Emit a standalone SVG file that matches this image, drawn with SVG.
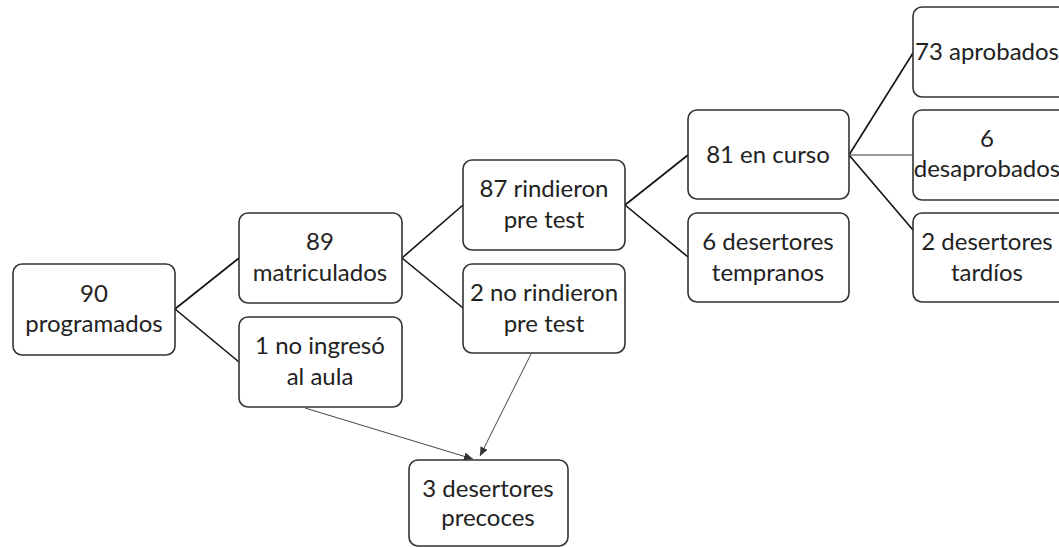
<svg xmlns="http://www.w3.org/2000/svg" width="1059" height="548" viewBox="0 0 1059 548">
<style>
.box{fill:#fff;stroke:#333;stroke-width:1.6}
.t{font-family:Lato,"Open Sans","Liberation Sans",sans-serif;font-size:24px;fill:#222;text-anchor:middle}
.ln{stroke:#111;stroke-width:1.6;fill:none}
.lg{stroke:#777;stroke-width:1.3;fill:none}
.ar{stroke:#444;stroke-width:1;fill:none}
</style>
<defs>
<marker id="ah" markerWidth="10" markerHeight="8" refX="9" refY="4" orient="auto" markerUnits="userSpaceOnUse">
<path d="M0,0 L9,4 L0,8 Z" fill="#333"/>
</marker>
</defs>
<rect width="1059" height="548" fill="#fff"/>
<g id="connectors">
<line class="ln" x1="175" y1="309" x2="239" y2="258"/>
<line class="ln" x1="175" y1="309" x2="239" y2="362"/>
<line class="ln" x1="402" y1="258" x2="463" y2="205"/>
<line class="ln" x1="402" y1="258" x2="463" y2="308"/>
<line class="ln" x1="625" y1="205" x2="688" y2="155"/>
<line class="ln" x1="625" y1="205" x2="688" y2="257"/>
<line class="ln" x1="849" y1="155" x2="913" y2="53"/>
<line class="lg" x1="849" y1="155" x2="913" y2="155"/>
<line class="ln" x1="849" y1="155" x2="913" y2="230"/>
<line class="ar" x1="305" y1="408" x2="473" y2="459" marker-end="url(#ah)"/>
<line class="ar" x1="531" y1="354" x2="480" y2="456" marker-end="url(#ah)"/>
</g>
<g id="n90">
<rect class="box" x="13" y="264" width="162" height="91" rx="9"/>
<text class="t" x="94" y="302">90</text>
<text class="t" x="94" y="332">programados</text>
</g>
<g id="n89">
<rect class="box" x="239" y="213" width="163" height="90" rx="9"/>
<text class="t" x="320" y="250">89</text>
<text class="t" x="320" y="281">matriculados</text>
</g>
<g id="n1">
<rect class="box" x="239" y="317" width="163" height="90" rx="9"/>
<text class="t" x="320" y="354">1 no ingresó</text>
<text class="t" x="320" y="385">al aula</text>
</g>
<g id="n87">
<rect class="box" x="463" y="160" width="162" height="90" rx="9"/>
<text class="t" x="544" y="197">87 rindieron</text>
<text class="t" x="544" y="228">pre test</text>
</g>
<g id="n2">
<rect class="box" x="463" y="264" width="162" height="89" rx="9"/>
<text class="t" x="544" y="301">2 no rindieron</text>
<text class="t" x="544" y="332">pre test</text>
</g>
<g id="n81">
<rect class="box" x="688" y="110" width="161" height="89" rx="9"/>
<text class="t" x="768" y="163">81 en curso</text>
</g>
<g id="n6t">
<rect class="box" x="688" y="213" width="161" height="89" rx="9"/>
<text class="t" x="768" y="250">6 desertores</text>
<text class="t" x="768" y="281">tempranos</text>
</g>
<g id="n73">
<rect class="box" x="913" y="7" width="162" height="90" rx="9"/>
<text class="t" x="987" y="60">73 aprobados</text>
</g>
<g id="n6d">
<rect class="box" x="913" y="110" width="162" height="90" rx="9"/>
<text class="t" x="987" y="147">6</text>
<text class="t" x="987" y="177">desaprobados</text>
</g>
<g id="n2t">
<rect class="box" x="913" y="213" width="162" height="89" rx="9"/>
<text class="t" x="987" y="250">2 desertores</text>
<text class="t" x="987" y="281">tardíos</text>
</g>
<g id="n3">
<rect class="box" x="409" y="460" width="159" height="86" rx="9"/>
<text class="t" x="488" y="497">3 desertores</text>
<text class="t" x="488" y="526">precoces</text>
</g>
</svg>
